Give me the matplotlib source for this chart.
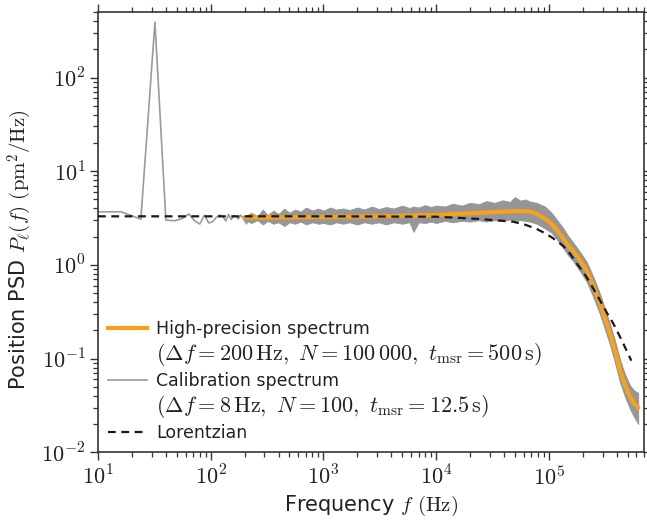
import numpy as np
import matplotlib
matplotlib.use("Agg")
import matplotlib.pyplot as plt
from matplotlib.ticker import FuncFormatter, LogLocator, NullFormatter
from matplotlib.lines import Line2D

plt.rcParams['mathtext.fontset'] = 'cm'
plt.rcParams['font.family'] = ['DejaVu Sans']

# Calibration spectrum (Δf = 8 Hz)
cal_f = [8, 16, 24, 32, 40, 48, 56, 64, 72, 80, 88, 96, 104, 112, 120, 128,
         136, 144, 152, 160, 168, 176, 184, 192, 200, 208, 216, 224, 232]
cal_P = [3.69, 3.69, 3.08, 390.0, 3.01, 2.96, 3.13, 3.49, 2.96, 2.73, 3.40,
         2.80, 2.89, 3.21, 3.40, 3.30, 2.95, 3.45, 3.05, 3.35, 3.30, 3.10,
         3.40, 3.20, 2.95, 2.75, 3.05, 2.90, 3.10]

# High-precision raw spectrum: upper / lower envelope of the noisy data
hp_f = [200, 230, 260, 290, 320, 360, 400, 450, 500, 560, 630, 700, 800, 900,
        1000, 1150, 1300, 1500, 1700, 2000, 2300, 2700, 3100, 3600, 4200, 5000,
        5800, 6300, 7000, 8000, 9000, 1e4, 1.2e4, 1.4e4, 1.7e4, 2e4, 2.4e4,
        2.8e4, 3.3e4, 3.9e4, 4.5e4, 5e4, 5.6e4, 6.2e4, 6.8e4, 7.8e4, 9.25e4,
        1.06e5, 1.19e5, 1.35e5, 1.48e5, 1.64e5, 1.89e5, 2.17e5, 2.47e5, 2.85e5,
        3.15e5, 3.49e5, 3.87e5, 4.28e5, 4.75e5, 5.25e5, 5.7e5, 6.22e5]
hp_upper = [3.3, 3.6, 3.3, 3.9, 3.4, 3.8, 3.5, 4.0, 3.6, 3.9, 3.7, 4.1, 3.8, 4.0,
            3.8, 4.1, 3.9, 4.0, 3.85, 4.1, 3.9, 4.2, 3.95, 4.15, 4.0, 4.3,
            4.05, 4.2, 4.1, 4.35, 4.15, 4.3, 4.2, 4.5, 4.3, 4.6, 4.45,
            4.8, 4.6, 4.9, 4.7, 5.3, 4.85, 5.0, 4.75, 4.6, 4.2,
            3.6, 3.0, 2.45, 2.05, 1.75, 1.38, 1.08, 0.76, 0.49,
            0.34, 0.235, 0.155, 0.098, 0.068, 0.052, 0.046, 0.043]
hp_lower = [3.0, 2.8, 3.0, 2.7, 2.95, 2.75, 2.85, 2.6, 2.85, 2.75, 2.9, 2.7, 2.85, 2.75,
            2.8, 2.7, 2.85, 2.75, 2.85, 2.7, 2.85, 2.75, 2.85, 2.7, 2.85, 2.75,
            2.85, 2.25, 2.85, 2.8, 2.9, 2.8, 2.95, 2.85, 2.95, 2.9, 3.0,
            2.9, 3.0, 2.95, 3.05, 2.95, 3.0, 2.95, 2.9, 2.75, 2.45,
            2.2, 1.85, 1.5, 1.27, 1.1, 0.86, 0.66, 0.46, 0.295,
            0.205, 0.14, 0.09, 0.056, 0.039, 0.029, 0.024, 0.020]

# High-precision smoothed spectrum
fit_f = [200, 1e3, 3e3, 1e4, 2.5e4, 5e4, 6.81e4, 7.82e4, 9.25e4, 1.06e5, 1.19e5,
         1.35e5, 1.48e5, 1.64e5, 1.89e5, 2.17e5, 2.47e5, 2.85e5, 3.15e5, 3.49e5,
         3.87e5, 4.28e5, 4.75e5, 5.25e5, 5.7e5, 6.22e5]
fit_P = [3.2, 3.25, 3.3, 3.4, 3.6, 3.75, 3.72, 3.49, 3.11, 2.73, 2.32,
         1.90, 1.62, 1.42, 1.12, 0.87, 0.60, 0.385, 0.268, 0.185,
         0.120, 0.075, 0.052, 0.039, 0.0334, 0.030]

# Lorentzian
lor_f = [10, 1e3, 1e4, 2.45e4, 4.84e4, 6.2e4, 7.8e4, 9.25e4, 1.06e5, 1.19e5,
         1.35e5, 1.54e5, 1.8e5, 2.17e5, 2.47e5, 2.85e5, 3.27e5, 3.74e5,
         4.45e5, 5.4e5]
lor_P = [3.30, 3.30, 3.27, 3.09, 2.89, 2.68, 2.42, 2.18, 1.97, 1.79,
         1.58, 1.32, 1.01, 0.738, 0.566, 0.417, 0.31, 0.236,
         0.156, 0.095]

orange = '#f7a21b'
gray_band = '#969696'
gray_line = '#9a9a9a'
dark = '#1a1a1a'

fig = plt.figure(figsize=(6.47, 5.22), dpi=100)
ax = fig.add_axes([0.1515, 0.1335, 0.8439, 0.8435])

ax.plot(cal_f, cal_P, color=gray_line, lw=1.2, zorder=2)
ax.fill_between(hp_f, hp_lower, hp_upper, color=gray_band, lw=0.6,
                edgecolor=gray_band, zorder=3)
ax.plot(fit_f, fit_P, color=orange, lw=3.0, zorder=4, solid_capstyle='round')
ax.plot(lor_f, lor_P, color=dark, lw=1.6, ls=(0, (3.5, 2.5)), zorder=5)

ax.set_xscale('log')
ax.set_yscale('log')
ax.set_xlim(10, 7e5)
ax.set_ylim(1e-2, 5e2)

fmt = FuncFormatter(lambda v, p: r'$10^{%d}$' % int(round(np.log10(v))))
ax.xaxis.set_major_formatter(fmt)
ax.yaxis.set_major_formatter(fmt)
ax.xaxis.set_major_locator(LogLocator(base=10, numticks=20))
ax.yaxis.set_major_locator(LogLocator(base=10, numticks=20))
ax.xaxis.set_minor_locator(LogLocator(base=10, subs=np.arange(2, 10), numticks=50))
ax.yaxis.set_minor_locator(LogLocator(base=10, subs=np.arange(2, 10), numticks=50))
ax.xaxis.set_minor_formatter(NullFormatter())
ax.yaxis.set_minor_formatter(NullFormatter())

spine_c = '#333333'
for s in ax.spines.values():
    s.set_color(spine_c)
    s.set_linewidth(1.2)
ax.tick_params(which='both', direction='out', top=True, right=True,
               color=spine_c, labelsize=16, labelcolor='#222222')
ax.tick_params(which='major', length=5.5, width=1.0)
ax.tick_params(which='minor', length=3.5, width=0.9)

ax.set_xlabel(r'Frequency $f$ $(\mathrm{Hz})$', fontsize=15, color='#222222', labelpad=4)
ax.set_ylabel(r'Position PSD $P_\ell(f)$ $(\mathrm{pm}^2/\mathrm{Hz})$', fontsize=15,
              color='#222222')
ax.yaxis.set_label_coords(-0.118, 0.46)

blank = Line2D([], [], color='none')
handles = [Line2D([], [], color=orange, lw=3.0), blank,
           Line2D([], [], color=gray_line, lw=1.2), blank,
           Line2D([], [], color=dark, lw=1.6, ls=(0, (3.5, 2.5)))]
labels = ['High-precision spectrum',
          r'$(\Delta f = 200\,\mathrm{Hz},\ N = 100\,000,\ t_\mathrm{msr} = 500\,\mathrm{s})$',
          'Calibration spectrum',
          r'$(\Delta f = 8\,\mathrm{Hz},\ N = 100,\ t_\mathrm{msr} = 12.5\,\mathrm{s})$',
          'Lorentzian']
leg = ax.legend(handles, labels, loc='lower left', frameon=False, fontsize=12.5,
                handlelength=2.2, handletextpad=0.55, labelspacing=0.2,
                borderaxespad=0.2, bbox_to_anchor=(0.0, 0.0))
for i, t in enumerate(leg.get_texts()):
    t.set_color('#222222')
    if i in (1, 3):
        t.set_fontsize(16)

fig.savefig('out.png', dpi=100)
